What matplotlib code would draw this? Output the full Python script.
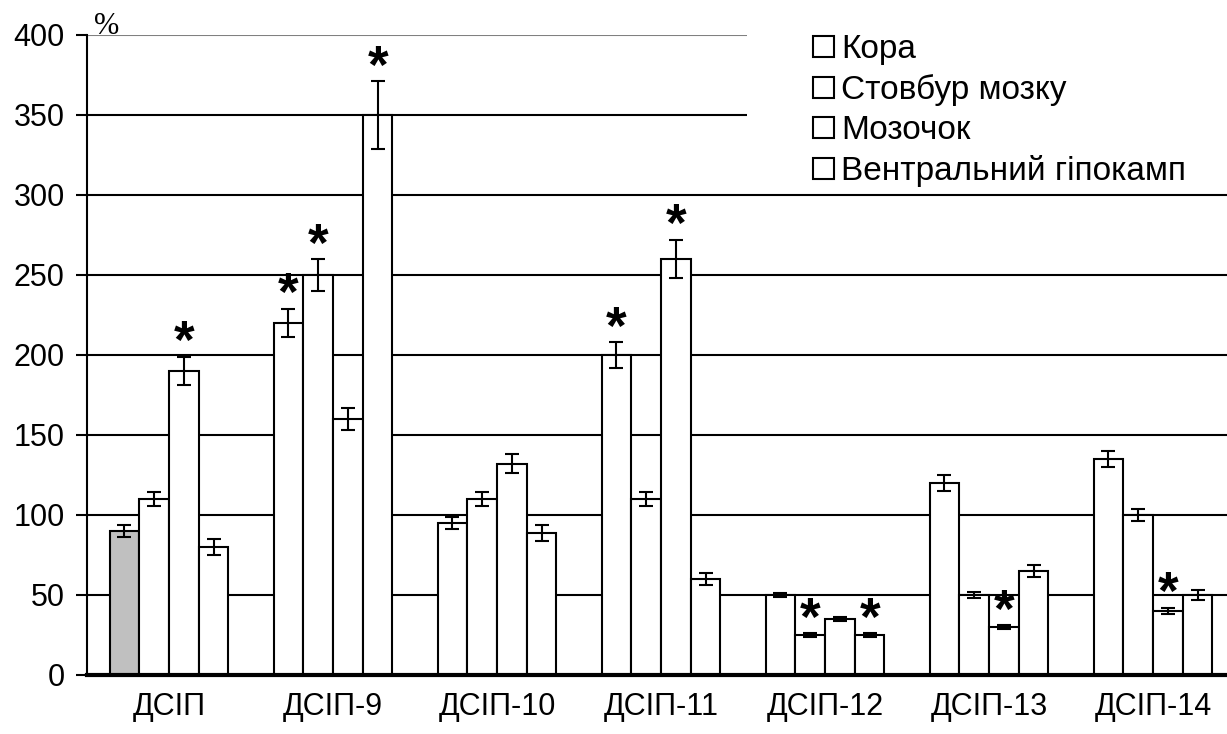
import matplotlib
matplotlib.use("Agg")
import matplotlib.pyplot as plt
from matplotlib.patches import Patch, Rectangle
import numpy as np

plt.rcParams['font.family'] = ['Liberation Sans', 'DejaVu Sans']

# ---- data ----
categories = ['ДСІП', 'ДСІП-9', 'ДСІП-10', 'ДСІП-11', 'ДСІП-12', 'ДСІП-13', 'ДСІП-14']
series_names = ['Кора', 'Стовбур мозку', 'Мозочок', 'Вентральний гіпокамп']
# values per category (4 bars each, in drawing order)
values = [
    [90, 110, 190, 80],
    [220, 250, 160, 350],
    [95, 110, 132, 89],
    [200, 110, 260, 60],
    [50, 25, 35, 25],
    [120, 50, 30, 65],
    [135, 100, 40, 50],
]
errors = [
    [4, 4.5, 9, 5],
    [9, 10, 7, 21],
    [4, 4.5, 6, 5],
    [8, 4.5, 12, 3.5],
    [1.5, 1, 1, 1],
    [5, 2, 1, 4],
    [5, 4, 2, 3],
]
significant = [
    [False, False, True, False],
    [True, True, False, True],
    [False, False, False, False],
    [True, False, True, False],
    [False, True, False, True],
    [False, False, True, False],
    [False, False, True, False],
]
yticks = [0, 50, 100, 150, 200, 250, 300, 350, 400]

# ---- figure ----
W, H = 1227, 734
fig = plt.figure(figsize=(W / 100, H / 100), dpi=100)
ax = fig.add_axes([87 / W, 59 / H, 1148 / W, 640 / H])

vals = np.array(values)
errs = np.array(errors)
n_cat, n_ser = vals.shape
width = 0.1814
x = np.arange(n_cat)

for j in range(n_ser):
    xs = x + (j - (n_ser - 1) / 2) * width
    colors = ['white'] * n_cat
    if j == 0:
        colors[0] = '#c0c0c0'
    ax.bar(xs, vals[:, j], width=width, color=colors, edgecolor='black',
           linewidth=1.5, zorder=2)
    ax.errorbar(xs, vals[:, j], yerr=errs[:, j], fmt='none', ecolor='black',
                elinewidth=1.5, capsize=5, capthick=1.5, zorder=3)
    for i in range(n_cat):
        if significant[i][j]:
            ax.annotate('*', xy=(xs[i], vals[i, j] + errs[i, j]),
                        xytext=(0, 9), textcoords='offset points',
                        ha='center', va='center', fontsize=38,
                        fontweight='bold', zorder=4)

# gridlines
for t in yticks[1:]:
    ax.axhline(t, color='#808080' if t == yticks[-1] else 'black',
               linewidth=1.5, zorder=0)

ax.set_xlim(-0.5, n_cat - 0.5)
ax.set_ylim(0, 400)
ax.set_yticks(yticks)
ax.set_xticks(x)
ax.set_xticklabels(categories, fontsize=22)
ax.tick_params(axis='y', direction='out', length=8, width=1.5, pad=8, labelsize=22)
ax.tick_params(axis='x', length=0, pad=12)

for s in ['top', 'right']:
    ax.spines[s].set_visible(False)
ax.spines['left'].set_linewidth(1.5)
ax.spines['bottom'].set_linewidth(3)
ax.spines['bottom'].set_zorder(5)

# white area behind legend
ax.add_patch(Rectangle((3.524, 310), 3.5, 100, facecolor='white',
                       edgecolor='none', clip_on=False, zorder=1.5))

handles = [Patch(facecolor='white', edgecolor='black', linewidth=1.5)
           for _ in series_names]
leg = fig.legend(handles, series_names, loc='upper left',
                 bbox_to_anchor=(813 / W, 1 - 34 / H), frameon=False,
                 fontsize=24, borderpad=0, borderaxespad=0,
                 handlelength=0.62, handleheight=0.6, handletextpad=0.22,
                 labelspacing=0.27)

fig.text(107 / W, 1 - 27 / H, '%', fontsize=22, family='Liberation Serif',
         ha='center', va='center')

fig.savefig('out.png', dpi=100)
